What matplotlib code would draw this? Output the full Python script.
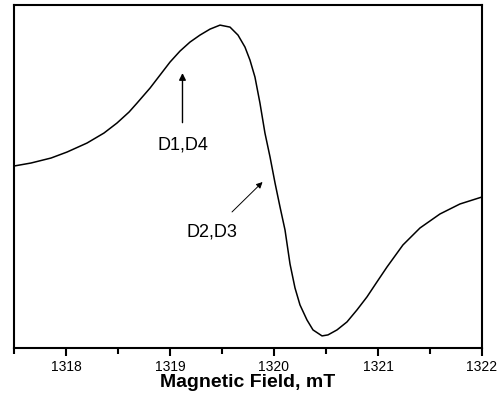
import matplotlib
matplotlib.use("Agg")
from matplotlib import pyplot as plt
from matplotlib.ticker import MultipleLocator

plt.rcParams['font.family'] = ['Liberation Sans', 'DejaVu Sans']

# EPR derivative signal (field in mT, intensity in a.u.)
field = [1317.500, 1317.663, 1317.856, 1318.010, 1318.202, 1318.365, 1318.490,
         1318.606, 1318.683, 1318.808, 1318.904, 1319.000, 1319.096, 1319.192,
         1319.288, 1319.385, 1319.481, 1319.577, 1319.654, 1319.721, 1319.769,
         1319.817, 1319.865, 1319.913, 1319.962, 1320.010, 1320.058, 1320.106,
         1320.154, 1320.202, 1320.250, 1320.317, 1320.375, 1320.462, 1320.519,
         1320.606, 1320.702, 1320.798, 1320.894, 1320.990, 1321.087, 1321.240,
         1321.404, 1321.596, 1321.788, 1322.000]
signal = [14, 17, 22, 28, 37, 47, 57,
          68, 77, 92, 105, 118, 129, 138,
          145, 151, 155, 153, 145, 133, 120,
          103, 77, 47, 23, -3, -27, -50,
          -84, -108, -125, -140, -150, -156, -155,
          -150, -142, -130, -117, -102, -87, -65,
          -48, -34, -24, -17]

ticks = [1318, 1319, 1320, 1321, 1322]

fig = plt.figure(figsize=(5.01, 3.94), dpi=100)
ax = fig.add_axes([0.028, 0.117, 0.934, 0.870])

ax.plot(field, signal, color='black', lw=1.1)

ax.set_xlim(1317.5, 1322)
ax.set_ylim(-168, 175)
ax.set_xticks(ticks)
ax.xaxis.set_minor_locator(MultipleLocator(0.5))
ax.set_yticks([])
for s in ax.spines.values():
    s.set_linewidth(1.5)
ax.tick_params(axis='x', which='major', direction='out', length=6, width=1.5,
               labelsize=10, pad=3)
ax.tick_params(axis='x', which='minor', direction='out', length=4, width=1.5)
ax.set_xlabel("Magnetic Field, mT", fontsize=14, fontweight='bold', labelpad=0)

ax.annotate("D1,D4", xy=(1319.12, 107), xytext=(1319.12, 35),
            ha='center', va='center', fontsize=13,
            arrowprops=dict(arrowstyle='-|>', color='black', lw=1,
                            shrinkA=8, shrinkB=0, mutation_scale=10))
ax.annotate("D2,D3", xy=(1319.89, -2), xytext=(1319.40, -52),
            ha='center', va='center', fontsize=13,
            arrowprops=dict(arrowstyle='-|>', color='black', lw=0.7,
                            shrinkA=9, shrinkB=0, mutation_scale=9))

fig.savefig("out.png", dpi=100)
